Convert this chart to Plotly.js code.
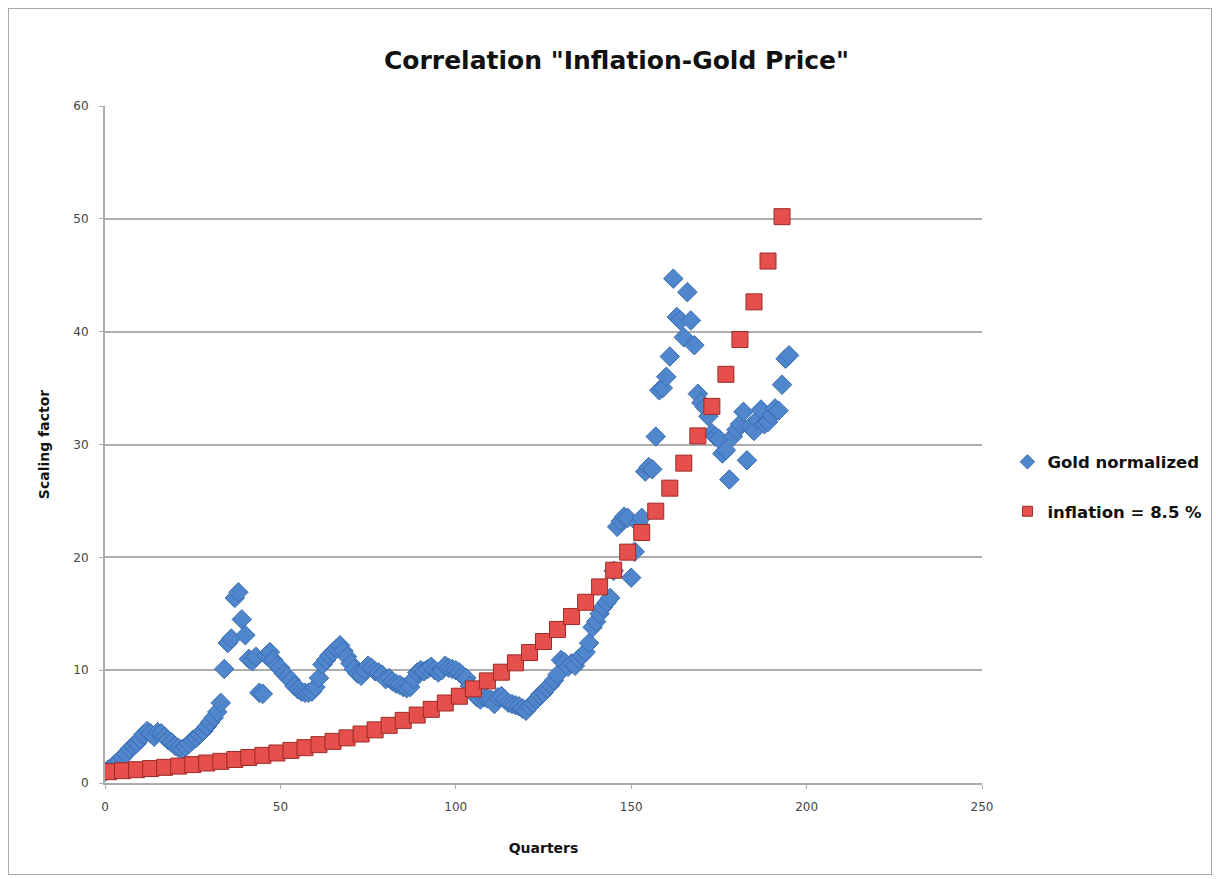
<!DOCTYPE html>
<html>
<head>
<meta charset="utf-8">
<script src="https://cdn.plot.ly/plotly-3.0.1.min.js"></script>
<style>
  html, body { margin: 0; padding: 0; background: #fff; }
  #chart { width: 1216px; height: 879px; }
  #frame { position: absolute; left: 8px; top: 8px; width: 1202px; height: 865px; border: 1px solid #a8a8a8; pointer-events: none; }
</style>
</head>
<body>
<div id="chart"></div>
<div id="frame"></div>
<script>
// Gold normalized (quarterly)
const goldQuarters = [];
for (let i = 0; i <= 195; i++) goldQuarters.push(i);
const goldValues = [
  1.0, 1.2, 1.4, 1.7, 2.0, 2.3, 2.6, 3.0, 3.3, 3.5,
  3.9, 4.3, 4.6, 4.4, 4.1, 4.5, 4.4, 4.1, 3.8, 3.6,
  3.3, 3.1, 3.0, 3.2, 3.5, 3.8, 4.0, 4.3, 4.6, 5.0,
  5.4, 5.8, 6.3, 7.1, 10.1, 12.4, 12.8, 16.4, 16.9, 14.5,
  13.1, 11.0, 10.8, 11.2, 8.0, 7.9, 11.3, 11.6, 10.9, 10.4,
  10.2, 9.7, 9.4, 9.1, 8.6, 8.3, 8.1, 8.0, 8.0, 8.1,
  8.5, 9.3, 10.5, 10.9, 11.3, 11.6, 11.9, 12.2, 11.7, 11.2,
  10.6, 10.1, 9.7, 9.5, 10.0, 10.4, 10.2, 9.9, 9.8, 9.6,
  9.2, 9.3, 9.0, 8.8, 8.7, 8.5, 8.4, 8.5, 9.2, 9.8,
  10.0, 9.9, 10.1, 10.3, 10.0, 9.8, 10.0, 10.4, 10.2, 10.1,
  10.0, 9.8, 9.5, 9.3, 8.6, 8.0, 7.6, 7.4, 7.6, 7.5,
  7.4, 7.0, 7.6, 7.7, 7.4, 7.1, 7.0, 6.9, 6.8, 6.6,
  6.4, 6.8, 7.1, 7.4, 7.8, 8.0, 8.4, 8.7, 9.1, 9.6,
  10.9, 10.7, 10.3, 10.6, 10.4, 11.0, 11.3, 11.6, 12.4, 13.8,
  14.3, 15.0, 15.6, 16.0, 16.4, 18.8, 22.7, 23.2, 23.6, 23.5,
  18.2, 20.5, 23.0, 23.5, 27.6, 28.0, 27.8, 30.7, 34.8, 35.0,
  36.0, 37.8, 44.7, 41.3, 41.0, 39.5, 43.5, 41.0, 38.8, 34.5,
  33.7, 33.3, 32.5, 31.0, 30.7, 30.5, 29.2, 29.5, 26.9, 30.7,
  31.3, 31.8, 32.9, 28.6, 31.6, 31.2, 32.2, 33.1, 31.8, 32.0,
  32.6, 33.2, 33.0, 35.3, 37.6, 37.9
];

// Inflation = 8.5 % (one point every 4 quarters)
const inflationQuarters = [
  1, 5, 9, 13, 17, 21, 25, 29, 33, 37,
  41, 45, 49, 53, 57, 61, 65, 69, 73, 77,
  81, 85, 89, 93, 97, 101, 105, 109, 113, 117,
  121, 125, 129, 133, 137, 141, 145, 149, 153, 157,
  161, 165, 169, 173, 177, 181, 185, 189, 193
];
const inflationValues = [
  1.00, 1.09, 1.18, 1.28, 1.39, 1.50, 1.63, 1.77, 1.92, 2.08,
  2.26, 2.45, 2.66, 2.89, 3.13, 3.40, 3.69, 4.00, 4.34, 4.71,
  5.11, 5.55, 6.02, 6.53, 7.09, 7.69, 8.34, 9.05, 9.82, 10.65,
  11.56, 12.54, 13.61, 14.76, 16.02, 17.38, 18.86, 20.46, 22.20, 24.09,
  26.13, 28.35, 30.76, 33.38, 36.22, 39.30, 42.64, 46.26, 50.19
];

const seriesNames = ['Gold normalized', 'inflation = 8.5 %'];
const xTicks = [0, 50, 100, 150, 200, 250];
const yTicks = [0, 10, 20, 30, 40, 50, 60];

const FONT = '"DejaVu Sans", "Open Sans", sans-serif';

const goldColor = '#4f86cc', goldLine = '#3a6db0';
const inflColor = '#e5504c', inflLine = '#9e2a27';

const traces = [
  {
    x: goldQuarters, y: goldValues, name: seriesNames[0],
    type: 'scatter', mode: 'markers', showlegend: false,
    marker: { symbol: 'diamond', size: 15, color: goldColor, line: { color: goldLine, width: 1 } }
  },
  {
    x: inflationQuarters, y: inflationValues, name: seriesNames[1],
    type: 'scatter', mode: 'markers', showlegend: false,
    marker: { symbol: 'square', size: 16, color: inflColor, line: { color: inflLine, width: 1 } }
  },
  // legend entries (smaller legend symbols, as in the reference)
  {
    x: [null], y: [null], name: seriesNames[0], type: 'scatter', mode: 'markers',
    marker: { symbol: 'diamond', size: 11, color: goldColor, line: { color: goldLine, width: 1 } },
    legend: 'legend'
  },
  {
    x: [null], y: [null], name: seriesNames[1], type: 'scatter', mode: 'markers',
    marker: { symbol: 'square', size: 10, color: inflColor, line: { color: inflLine, width: 1 } },
    legend: 'legend2'
  }
];

const legendFont = { family: FONT, size: 16.5, color: '#111111', weight: 'bold' };

const layout = {
  width: 1216, height: 879,
  paper_bgcolor: '#ffffff', plot_bgcolor: '#ffffff',
  margin: { l: 105, r: 234, t: 106, b: 96, autoexpand: false },
  font: { family: FONT, color: '#333333' },
  title: {
    text: 'Correlation "Inflation-Gold Price"',
    font: { family: FONT, size: 25, color: '#111111', weight: 'bold' },
    x: 0.507, xanchor: 'center', y: 0.932, yanchor: 'middle'
  },
  xaxis: {
    range: [0, 250], tickvals: xTicks, ticktext: xTicks.map(String),
    showgrid: false, zeroline: false,
    showline: true, linecolor: '#adadad', linewidth: 2,
    ticks: 'outside', ticklen: 4, tickcolor: '#adadad', tickwidth: 1,
    tickfont: { family: FONT, size: 12, color: '#444444' },
    ticklabelstandoff: 8,
    title: { text: 'Quarters', font: { family: FONT, size: 14, color: '#111111', weight: 'bold' }, standoff: 30 }
  },
  yaxis: {
    range: [0, 60], tickvals: yTicks, ticktext: yTicks.map(String),
    showgrid: true, gridcolor: '#adadad', gridwidth: 2, zeroline: false,
    showline: true, linecolor: '#adadad', linewidth: 2,
    ticks: 'outside', ticklen: 4, tickcolor: '#adadad', tickwidth: 1,
    tickfont: { family: FONT, size: 12, color: '#444444' },
    ticklabelstandoff: 8,
    title: { text: 'Scaling factor', font: { family: FONT, size: 14, color: '#111111', weight: 'bold' }, standoff: 20 }
  },
  showlegend: true,
  legend: {
    x: 1.029, xanchor: 'left', y: 0.474, yanchor: 'middle',
    bgcolor: 'rgba(0,0,0,0)', borderwidth: 0,
    font: legendFont, itemsizing: 'trace', itemwidth: 30
  },
  legend2: {
    x: 1.029, xanchor: 'left', y: 0.401, yanchor: 'middle',
    bgcolor: 'rgba(0,0,0,0)', borderwidth: 0,
    font: legendFont, itemsizing: 'trace', itemwidth: 30
  }
};

Plotly.newPlot('chart', traces, layout, { staticPlot: true, displayModeBar: false });
</script>
</body>
</html>
